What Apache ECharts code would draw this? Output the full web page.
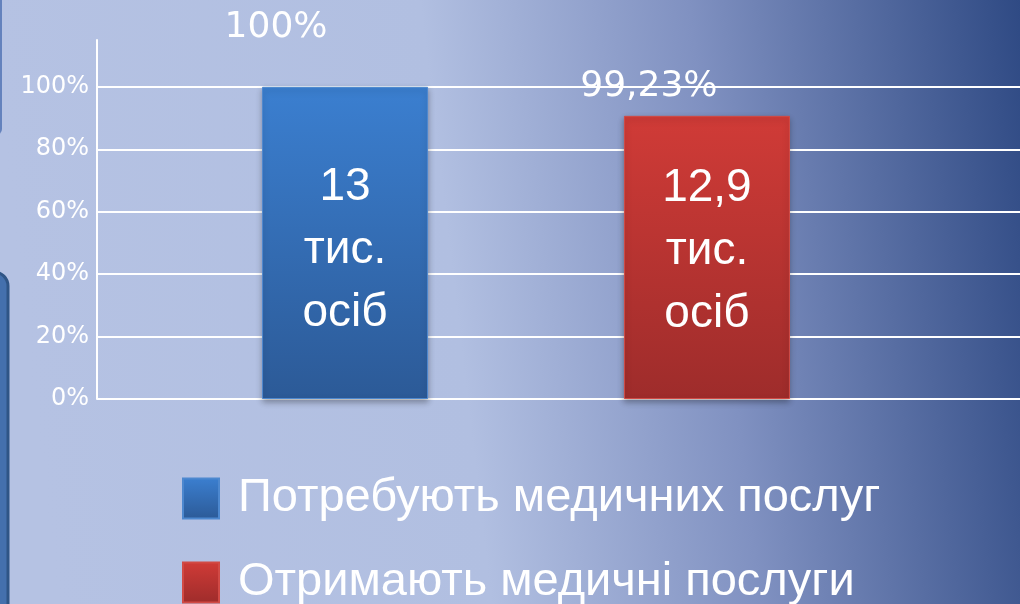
<!DOCTYPE html>
<html>
<head>
<meta charset="utf-8">
<script src="https://cdn.jsdelivr.net/npm/echarts@6/dist/echarts.min.js"></script>
<style>
  html, body { margin: 0; padding: 0; }
  #mains { width: 1020px; height: 604px; }
</style>
</head>
<body>
<div id="mains"></div>
<script>
// дані з картинки
var categories = ['Медичні послуги'];
var seriesNames = ['Потребують медичних послуг', 'Отримають медичні послуги'];
var barValues = [100, 90.7];
var topLabels = ['100%', '99,23%'];
var innerLabels = ['13\nтис.\nосіб', '12,9\nтис.\nосіб'];
var yTicks = [0, 20, 40, 60, 80, 100];

var topOffsets = [[-69, -59], [-58, -29]];
var innerOffsets = [[0, 7], [0, -6]];
var barColors = [
  ['#3b7fd0', '#2c5a97'],
  ['#d03b37', '#9e2c2b']
];
var borderColors = ['#4d88cf', '#d14a45'];

var myChart = echarts.init(document.getElementById('mains'));

var series = seriesNames.map(function (name, i) {
  return {
    name: name,
    type: 'bar',
    xAxisIndex: 1,
    yAxisIndex: 1,
    barWidth: 166,
    barGap: '118%',
    data: [barValues[i]],
    itemStyle: {
      color: new echarts.graphic.LinearGradient(0, 0, 0, 1, [
        { offset: 0, color: barColors[i][0] },
        { offset: 1, color: barColors[i][1] }
      ]),
      borderColor: borderColors[i],
      borderWidth: 1,
      shadowBlur: 6,
      shadowOffsetY: 3,
      shadowColor: 'rgba(0,0,0,0.3)'
    },
    label: {
      show: true,
      position: 'inside',
      offset: innerOffsets[i],
      formatter: innerLabels[i],
      color: '#fff',
      fontFamily: 'Liberation Sans',
      fontSize: 46,
      lineHeight: 63
    },
    markPoint: {
      symbol: 'rect',
      symbolSize: 0,
      data: [{ type: 'max' }],
      label: {
        show: true,
        position: 'inside',
        offset: topOffsets[i],
        formatter: topLabels[i],
        color: '#fff',
        fontFamily: 'DejaVu Sans',
        fontSize: 36
      }
    }
  };
});

myChart.setOption({
  backgroundColor: {
    type: 'linear', x: 0, y: 0.2, x2: 1, y2: 0,
    colorStops: [
      { offset: 0, color: '#b5c2e3' },
      { offset: 0.42, color: '#b1bfe1' },
      { offset: 0.68, color: '#8091c1' },
      { offset: 1, color: '#2f4a84' }
    ]
  },
  animation: false,
  graphic: [
    { type: 'rect', shape: { x: -12, y: -10, width: 14, height: 145, r: 6 }, style: { fill: '#6482bd' } },
    { type: 'rect', shape: { x: -30, y: 272, width: 38, height: 360, r: 14 }, style: { fill: '#4470ad', stroke: '#2f5586', lineWidth: 3 } }
  ],
  legend: {
    orient: 'vertical',
    left: 182,
    top: 475,
    height: 300,
    padding: 0,
    itemWidth: 36,
    itemHeight: 40,
    itemGap: 37,
    icon: 'rect',
    textStyle: {
      color: '#fff',
      fontFamily: 'Liberation Sans',
      fontSize: 47,
      padding: [0, 0, 0, 14]
    },
    data: seriesNames
  },
  grid: [
    { left: 97, right: 0, top: 40, bottom: 205 },
    { left: 97, right: 65, top: 40, bottom: 205 }
  ],
  xAxis: [
    { type: 'category', gridIndex: 0, data: categories, show: false },
    { type: 'category', gridIndex: 1, data: categories, show: false }
  ],
  yAxis: [
    {
      type: 'value',
      gridIndex: 0,
      min: 0,
      max: 115,
      interval: 20,
      axisLine: { show: true, lineStyle: { color: '#fff', width: 2 } },
      axisTick: { show: false },
      splitLine: { show: true, showMaxLine: false, lineStyle: { color: '#fff', width: 2 } },
      axisLabel: {
        color: '#fff',
        fontFamily: 'DejaVu Sans',
        fontSize: 24,
        margin: 8,
        formatter: function (v) {
          return yTicks.indexOf(v) >= 0 ? v + '%' : '';
        }
      }
    },
    { type: 'value', gridIndex: 1, min: 0, max: 115, show: false }
  ],
  series: series
});
</script>
</body>
</html>
